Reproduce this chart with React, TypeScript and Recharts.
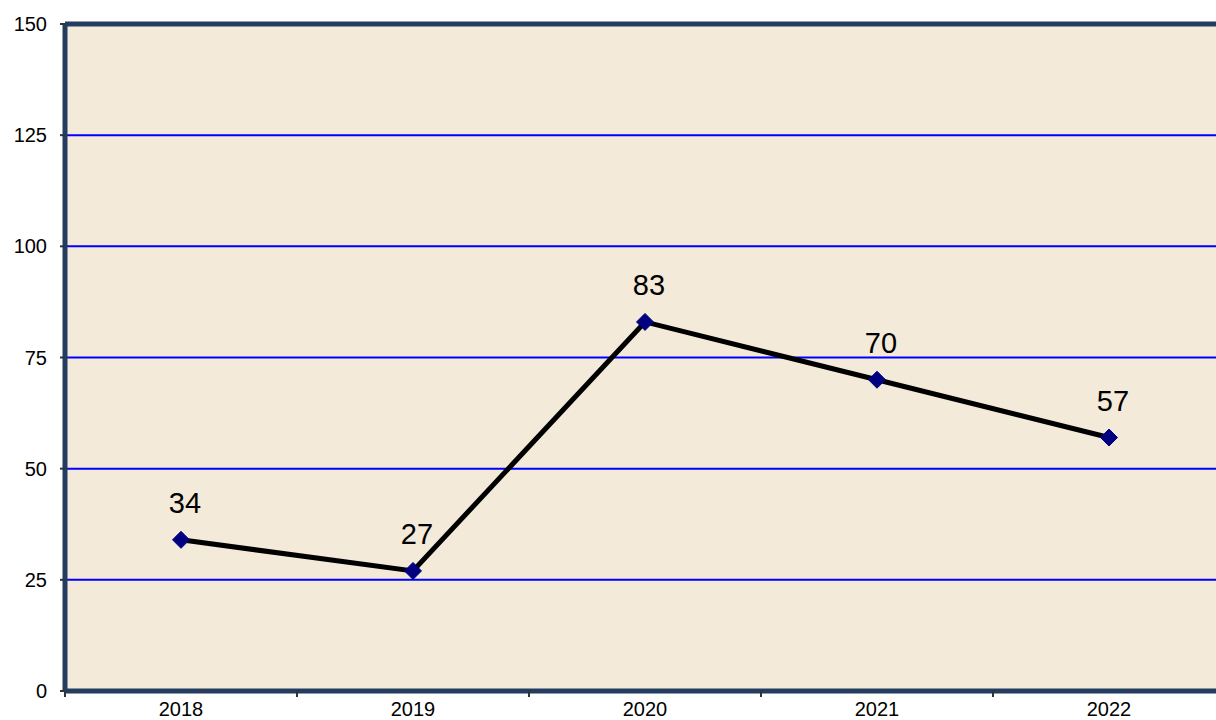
import React from "react";
import {
  LineChart,
  Line,
  XAxis,
  YAxis,
  CartesianGrid,
  ReferenceLine,
  LabelList,
} from "recharts";

const years = ["2018", "2019", "2020", "2021", "2022"];
const values = [34, 27, 83, 70, 57];
const yTicks = [0, 25, 50, 75, 100, 125, 150];

const data = years.map((year, i) => ({ year, value: values[i] }));

const NAVY = "#223d60";
const FONT = "'Liberation Sans', Arial, sans-serif";

const Diamond = (props: any) => {
  const { cx, cy } = props;
  if (cx == null || cy == null) return null;
  const r = 8.5;
  return (
    <polygon
      points={`${cx},${cy - r} ${cx + r},${cy} ${cx},${cy + r} ${cx - r},${cy}`}
      fill="#000080"
      stroke="#000080"
      strokeWidth={1}
    />
  );
};

const CategoryTick = (props: any) => {
  const { x, y, payload } = props;
  const half = payload && typeof payload.offset === "number" ? payload.offset : 0;
  const axisY = y - 11;
  return (
    <g>
      {half > 0 && (
        <line
          x1={x - half}
          x2={x - half}
          y1={axisY}
          y2={axisY + 6}
          stroke="#333333"
          strokeWidth={2}
        />
      )}
      <text
        x={x}
        y={y}
        dy="0.71em"
        textAnchor="middle"
        fill="#000000"
        fontSize={20}
        fontFamily={FONT}
      >
        {payload.value}
      </text>
    </g>
  );
};

export default function App() {
  return (
    <div
      style={{
        position: "fixed",
        left: 0,
        top: 0,
        width: 1216,
        height: 720,
        overflow: "hidden",
        background: "#ffffff",
      }}
    >
      <LineChart
        width={1240}
        height={720}
        data={data}
        margin={{ top: 24, right: 15, bottom: 0, left: 0 }}
      >
        <CartesianGrid
          vertical={false}
          stroke="#0000ff"
          strokeWidth={2}
          fill="#f3ead9"
          fillOpacity={1}
        />
        <XAxis
          dataKey="year"
          scale="band"
          height={29}
          tickSize={0}
          tickMargin={11}
          tickLine={false}
          axisLine={{ stroke: NAVY, strokeWidth: 5 }}
          tick={<CategoryTick />}
        />
        <YAxis
          width={65}
          domain={[0, 150]}
          ticks={yTicks}
          interval={0}
          tickSize={5}
          tickMargin={13}
          axisLine={{ stroke: NAVY, strokeWidth: 5 }}
          tickLine={{ stroke: "#333333", strokeWidth: 2 }}
          tick={{ fill: "#000000", fontSize: 20, fontFamily: FONT }}
        />
        <ReferenceLine y={150} stroke={NAVY} strokeWidth={5} />
        <Line
          type="linear"
          dataKey="value"
          stroke="#000000"
          strokeWidth={5}
          dot={<Diamond />}
          activeDot={false}
          isAnimationActive={false}
        >
          <LabelList
            dataKey="value"
            position="top"
            offset={27}
            dx={4}
            fill="#000000"
            fontSize={29}
            fontFamily={FONT}
          />
        </Line>
      </LineChart>
    </div>
  );
}
